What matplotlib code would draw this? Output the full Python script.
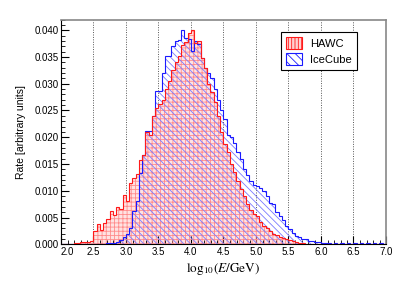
import numpy as np
import matplotlib
matplotlib.use("Agg")
import matplotlib.pyplot as plt
from matplotlib.patches import Patch

edges = np.round(np.arange(2.0, 7.0001, 0.05), 3)

hawc = [
    0.0000, 0.0000, 0.0001, 0.0001, 0.0003, 0.0003, 0.0004, 0.0004, 0.0005, 0.0006,  # 2.00-2.45
    0.0025, 0.0037, 0.0027, 0.0040, 0.0047, 0.0063, 0.0054, 0.0069, 0.0066, 0.0092,  # 2.50-2.95
    0.0080, 0.0114, 0.0124, 0.0131, 0.0158, 0.0167, 0.0210, 0.0205, 0.0240, 0.0255,  # 3.00-3.45
    0.0262, 0.0270, 0.0290, 0.0306, 0.0326, 0.0341, 0.0352, 0.0372, 0.0378, 0.0394,  # 3.50-3.95
    0.0401, 0.0377, 0.0380, 0.0348, 0.0330, 0.0300, 0.0285, 0.0265, 0.0240, 0.0210,  # 4.00-4.45
    0.0188, 0.0172, 0.0150, 0.0135, 0.0118, 0.0104, 0.0090, 0.0075, 0.0065, 0.0056,  # 4.50-4.95
    0.0052, 0.0042, 0.0034, 0.0030, 0.0025, 0.0020, 0.0017, 0.0013, 0.0011, 0.0009,  # 5.00-5.45
    0.0008, 0.0006, 0.0004, 0.0003, 0.0002, 0.0001, 0.0001, 0.0000, 0.0000, 0.0000,  # 5.50-5.95
    0.0000, 0.0000, 0.0000, 0.0000, 0.0000, 0.0000, 0.0000, 0.0000, 0.0000, 0.0000,  # 6.00-6.45
    0.0000, 0.0000, 0.0000, 0.0000, 0.0000, 0.0000, 0.0000, 0.0000, 0.0000, 0.0000,  # 6.50-6.95
]

icecube = [
    0.0001, 0.0001, 0.0001, 0.0001, 0.0001, 0.0001, 0.0001, 0.0001, 0.0001, 0.0001,  # 2.00-2.45
    0.0001, 0.0001, 0.0001, 0.0001, 0.0002, 0.0002, 0.0003, 0.0005, 0.0008, 0.0014,  # 2.50-2.95
    0.0019, 0.0031, 0.0062, 0.0080, 0.0133, 0.0167, 0.0212, 0.0212, 0.0240, 0.0287,  # 3.00-3.45
    0.0287, 0.0320, 0.0352, 0.0352, 0.0371, 0.0380, 0.0382, 0.0401, 0.0386, 0.0383,  # 3.50-3.95
    0.0361, 0.0379, 0.0374, 0.0348, 0.0330, 0.0320, 0.0310, 0.0290, 0.0270, 0.0250,  # 4.00-4.45
    0.0235, 0.0204, 0.0200, 0.0190, 0.0172, 0.0160, 0.0140, 0.0130, 0.0118, 0.0110,  # 4.50-4.95
    0.0108, 0.0105, 0.0100, 0.0090, 0.0078, 0.0075, 0.0060, 0.0052, 0.0045, 0.0035,  # 5.00-5.45
    0.0029, 0.0022, 0.0015, 0.0013, 0.0010, 0.0009, 0.0007, 0.0006, 0.0005, 0.0004,  # 5.50-5.95
    0.0003, 0.0002, 0.0003, 0.0001, 0.0003, 0.0001, 0.0003, 0.0001, 0.0003, 0.0001,  # 6.00-6.45
    0.0003, 0.0001, 0.0003, 0.0001, 0.0003, 0.0001, 0.0003, 0.0001, 0.0003, 0.0001,  # 6.50-6.95
]

labels = ["HAWC", "IceCube"]

plt.rcParams['font.family'] = ['Liberation Sans', 'DejaVu Sans']
plt.rcParams['hatch.linewidth'] = 0.6

fig = plt.figure(figsize=(4.07, 2.81), dpi=100)
ax = fig.add_axes([61/407, 1-244.3/281, (386-61)/407, (244.3-19.5)/281])

red = '#ff1a1a'
blue = '#1a1aff'

# fills
ax.stairs(hawc, edges, fill=True, facecolor='#ffe2e2', edgecolor='none', linewidth=0, zorder=1)
ax.stairs(hawc, edges, fill=True, facecolor='none', edgecolor='#ff8c8c', hatch='++++', linewidth=0, zorder=2)
ax.stairs(icecube, edges, fill=True, facecolor='none', edgecolor='#7a7aff', hatch='\\\\\\\\\\', linewidth=0, zorder=3)
# outlines
ax.stairs(icecube, edges, fill=False, edgecolor=blue, linewidth=0.8, zorder=4)
ax.stairs(hawc, edges, fill=False, edgecolor=red, linewidth=0.8, zorder=5)

ax.set_xlim(2.0, 7.0)
ax.set_ylim(0.0, 0.042)

for xv in np.arange(2.5, 6.51, 0.5):
    ax.axvline(xv, color='#555555', linestyle=(0, (1, 1.5)), linewidth=0.7, zorder=0.5)

ax.set_xticks(np.arange(2.0, 7.01, 0.5))
ax.set_xticklabels([f"{v:.1f}" for v in np.arange(2.0, 7.01, 0.5)])
ax.set_xticks(np.arange(2.0, 7.01, 0.1), minor=True)
ax.set_yticks(np.arange(0.0, 0.0401, 0.005))
ax.set_yticklabels([f"{v:.3f}" for v in np.arange(0.0, 0.0401, 0.005)])
ax.set_yticks(np.arange(0.0, 0.0421, 0.001), minor=True)

ax.tick_params(axis='both', which='both', direction='in', top=False, right=False, labelsize=7, colors='black')
ax.tick_params(axis='both', which='major', length=6, width=0.8, pad=1.5)
ax.tick_params(axis='both', which='minor', length=3, width=0.6)
ax.tick_params(axis='x', which='major', pad=2)

# first x label starts at the axis (as in the reference, avoiding the 0.000 label)
ax.get_xticklabels()[0].set_horizontalalignment('left')

for side in ['top', 'right']:
    ax.spines[side].set_color('#888888')
    ax.spines[side].set_linewidth(1.2)
for side in ['left', 'bottom']:
    ax.spines[side].set_color('black')
    ax.spines[side].set_linewidth(0.8)

ax.set_ylabel("Rate [arbitrary units]", fontsize=7.5, labelpad=6)
ax.set_xlabel(r"$\mathrm{log}_{10}(E/\mathrm{GeV})$", fontsize=9.5, labelpad=2.5,
              math_fontfamily='stix')

handles = [
    Patch(facecolor='#ffd0d0', edgecolor=red, hatch='|||||', linewidth=0.8),
    Patch(facecolor='white', edgecolor=blue, hatch='\\\\\\\\', linewidth=0.8),
]
leg = ax.legend(handles, labels, loc='upper left', bbox_to_anchor=((281-61)/325, 1-(32-19.5)/224.8),
                borderaxespad=0,
                fontsize=8, frameon=True, fancybox=False, edgecolor='black', framealpha=1,
                handlelength=1.4, handleheight=1.3, borderpad=0.45, labelspacing=0.35, handletextpad=0.8)
leg.get_frame().set_linewidth(0.8)
leg.set_zorder(10)

fig.savefig("out.png", dpi=100)
